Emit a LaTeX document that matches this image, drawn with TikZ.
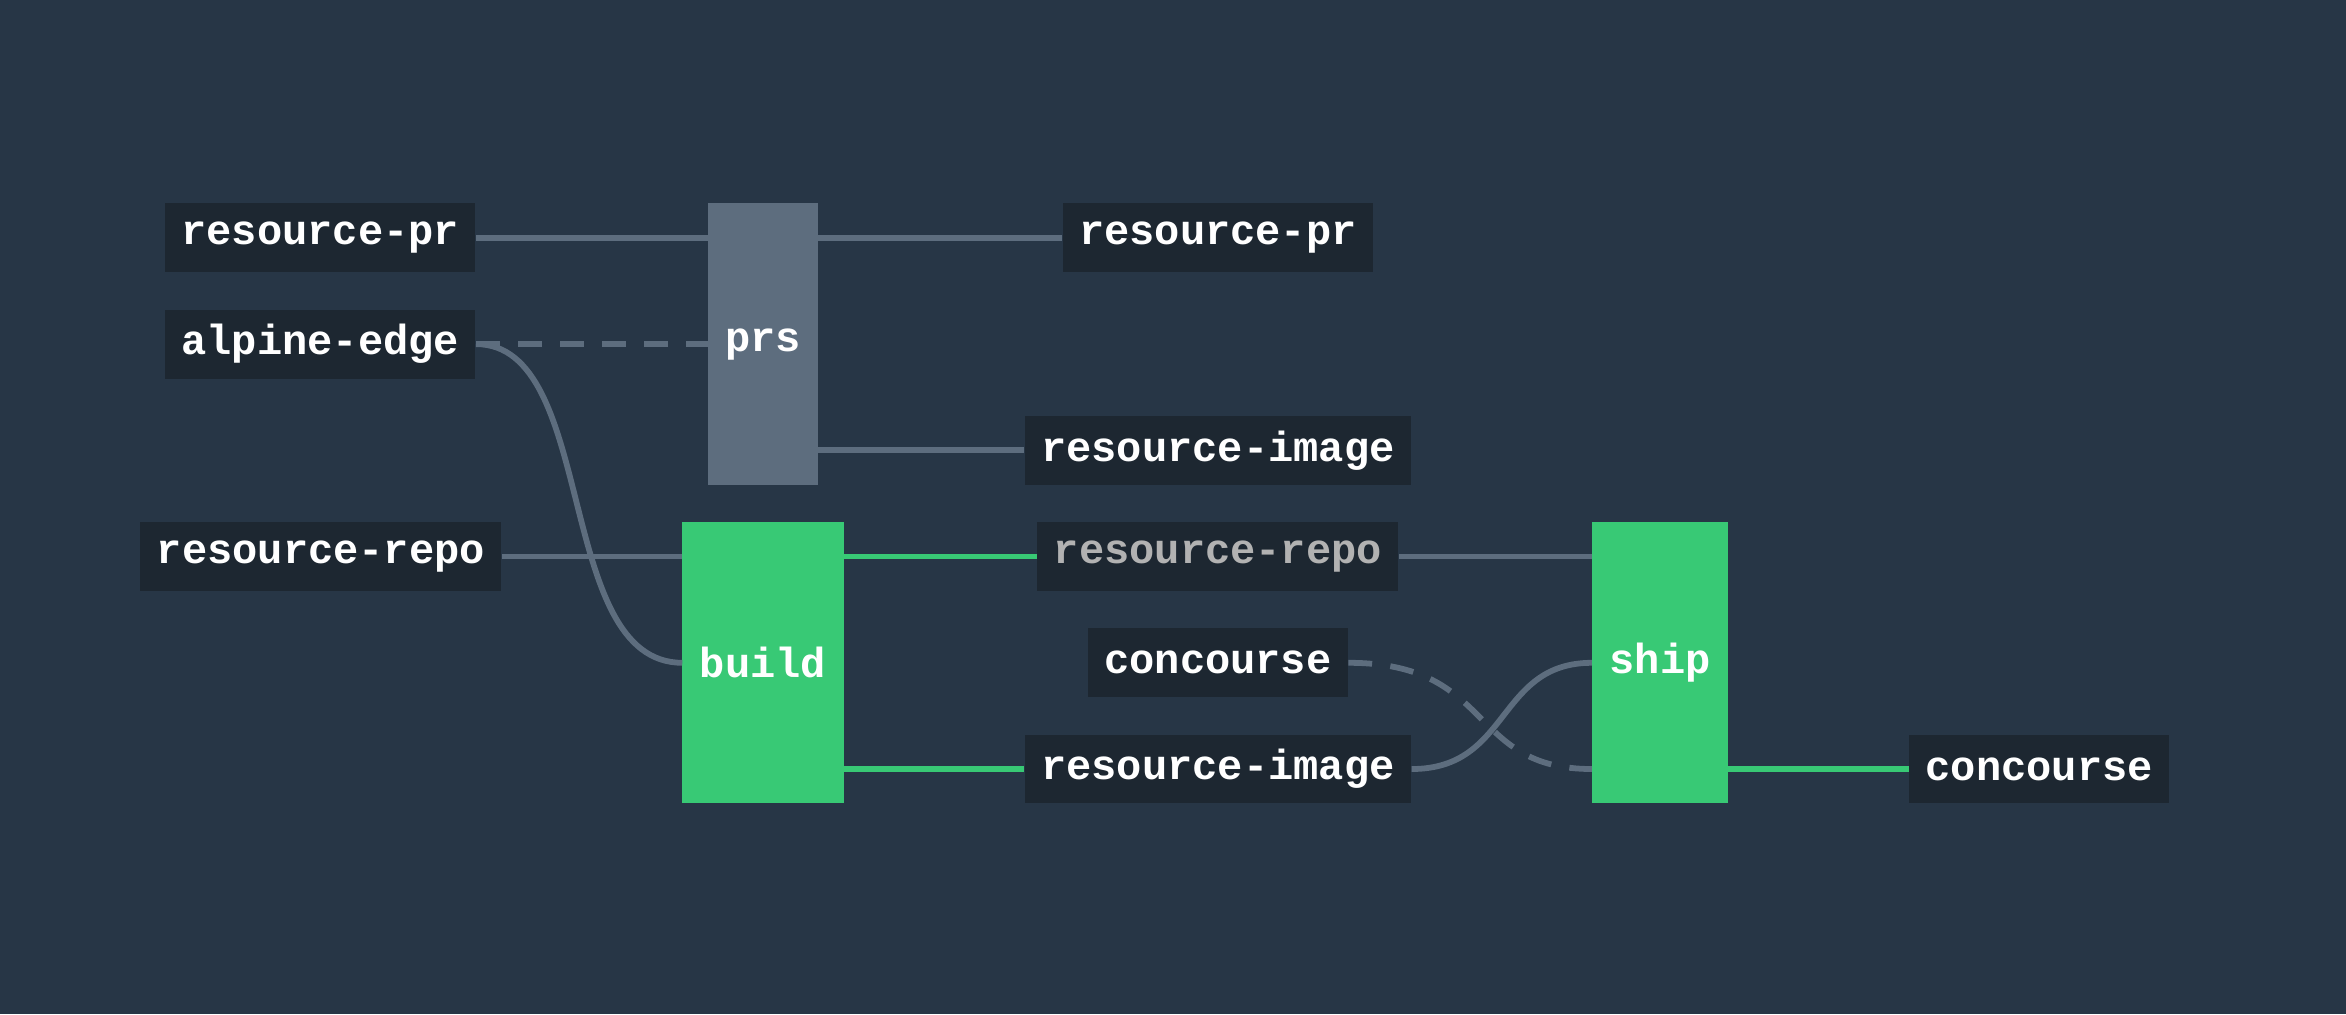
\documentclass[tikz,border=0pt]{standalone}
\usepackage{fontspec}
\setmonofont{Liberation Mono}
\begin{document}
\begin{tikzpicture}[x=0.02cm,y=-0.02cm]
\definecolor{bg}{HTML}{273646}
\definecolor{box}{HTML}{1D2731}
\definecolor{gr}{HTML}{5D6D7E}
\definecolor{gn}{HTML}{38C975}
\tikzset{res/.style={fill=box,text=white,font=\ttfamily\bfseries\fontsize{16}{18}\selectfont,minimum height=0.92cm,inner xsep=0.22cm,inner ysep=0pt},
job/.style={text=white,font=\ttfamily\bfseries\fontsize{16}{18}\selectfont,inner sep=0pt},
gline/.style={draw=gr,line width=2.2pt},
nline/.style={draw=gn,line width=2.2pt}}
\fill[bg] (0,0) rectangle (1568,678);
\node[res] (rp1) at (214,159) {resource-pr};
\node[res] (ae) at (214,230) {alpine-edge};
\node[res] (rr1) at (214.5,372) {resource-repo};
\node[res] (rp2) at (814,159) {resource-pr};
\node[res] (ri1) at (814,301) {resource-image};
\node[res,text=gray!60] (rr2) at (814,372) {resource-repo};
\node[res] (c1) at (814,443) {concourse};
\node[res] (ri2) at (814,514) {resource-image};
\node[res] (c2) at (1363,514) {concourse};
\fill[gr] (473,136) rectangle (547,324);
\node[job] (prs) at (510,230) {prs};
\fill[gn] (456,349) rectangle (564,537);
\node[job] (build) at (510,443) {build};
\fill[gn] (1064,349) rectangle (1155,537);
\node[job] (ship) at (1109.5,443) {ship};
\coordinate (pa) at (473,159); \coordinate (pb) at (547,159);
\coordinate (pc) at (473,230); \coordinate (pd) at (547,301);
\coordinate (ba) at (456,372); \coordinate (bb) at (456,443);
\coordinate (bc) at (564,372); \coordinate (bd) at (564,514);
\coordinate (sa) at (1064,372); \coordinate (sb) at (1064,443);
\coordinate (sc) at (1064,514); \coordinate (sd) at (1155,514);
\draw[gline] (rp1.east) -- (pa);
\draw[gline] (pb) -- (rp2.west);
\draw[gline,dash pattern=on 9pt off 7pt] (ae.east) -- (pc);
\draw[gline] (ae.east) .. controls (400,230) and (370,443) .. (bb);
\draw[gline] (rr1.east) -- (ba);
\draw[gline] (pd) -- (ri1.west);
\draw[nline] (bc) -- (rr2.west);
\draw[nline] (bd) -- (ri2.west);
\draw[gline] (rr2.east) -- (sa);
\draw[gline,dash pattern=on 9pt off 7pt] (c1.east) .. controls (1000,443) and (980,514) .. (sc);
\draw[gline] (ri2.east) .. controls (1010,514) and (1000,443) .. (sb);
\draw[nline] (sd) -- (c2.west);
\end{tikzpicture}
\end{document}
